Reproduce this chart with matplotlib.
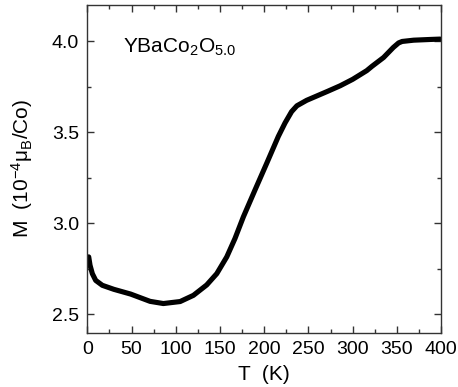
import matplotlib
matplotlib.use("Agg")
import matplotlib.pyplot as plt
from matplotlib.ticker import MultipleLocator, FormatStrFormatter

plt.rcParams['font.family'] = ['Liberation Sans', 'DejaVu Sans']
plt.rcParams['mathtext.fontset'] = 'custom'
plt.rcParams['mathtext.rm'] = 'Liberation Sans'
plt.rcParams['mathtext.it'] = 'Liberation Sans'
plt.rcParams['mathtext.bf'] = 'Liberation Sans:bold'

# Temperature (K)
T = [1.6, 3.1, 5.7, 9.5, 17, 30, 49, 71, 86, 105, 120, 135, 146.4,
     157.7, 167, 176.5, 189.7, 203, 216, 223.6, 231, 237, 248, 260, 272,
     286, 300, 316, 322, 335, 346, 352, 356, 369, 388, 399]
# Magnetization (1e-4 muB/Co)
M = [2.816, 2.770, 2.724, 2.687, 2.660, 2.638, 2.612, 2.572, 2.560, 2.571,
     2.605, 2.662, 2.724, 2.816, 2.917, 3.036, 3.184, 3.331, 3.477, 3.551,
     3.613, 3.645, 3.675, 3.700, 3.725, 3.755, 3.790, 3.838, 3.862, 3.910,
     3.965, 3.990, 3.998, 4.005, 4.009, 4.011]

fig = plt.figure(figsize=(4.58, 3.87), dpi=100)
ax = fig.add_axes([0.1906, 0.1403, 0.963 - 0.1906, 0.988 - 0.1403])

ax.plot(T, M, color='black', lw=3.7, solid_capstyle='round', solid_joinstyle='round')

ax.set_xlim(0, 400)
ax.set_ylim(2.4, 4.2)
ax.xaxis.set_major_locator(MultipleLocator(50))
ax.xaxis.set_minor_locator(MultipleLocator(25))
ax.yaxis.set_major_locator(MultipleLocator(0.5))
ax.yaxis.set_minor_locator(MultipleLocator(0.25))
ax.yaxis.set_major_formatter(FormatStrFormatter('%.1f'))
ax.tick_params(which='both', direction='in', top=True, right=True,
               labelsize=14, color='#333333')
ax.tick_params(which='major', length=5, width=1, pad=6)
ax.tick_params(which='minor', length=3, width=1)
for s in ax.spines.values():
    s.set_linewidth(1)
    s.set_color('#333333')

ax.set_xlabel('T  (K)', fontsize=15, labelpad=5)
ax.set_ylabel(r'M  (10$^{-4}$μ$_{B}$/Co)', fontsize=15, labelpad=12)
ax.text(40, 3.966, r'YBaCo$_2$O$_{5.0}$', fontsize=15, va='center', ha='left')

fig.savefig('out.png', dpi=100)
